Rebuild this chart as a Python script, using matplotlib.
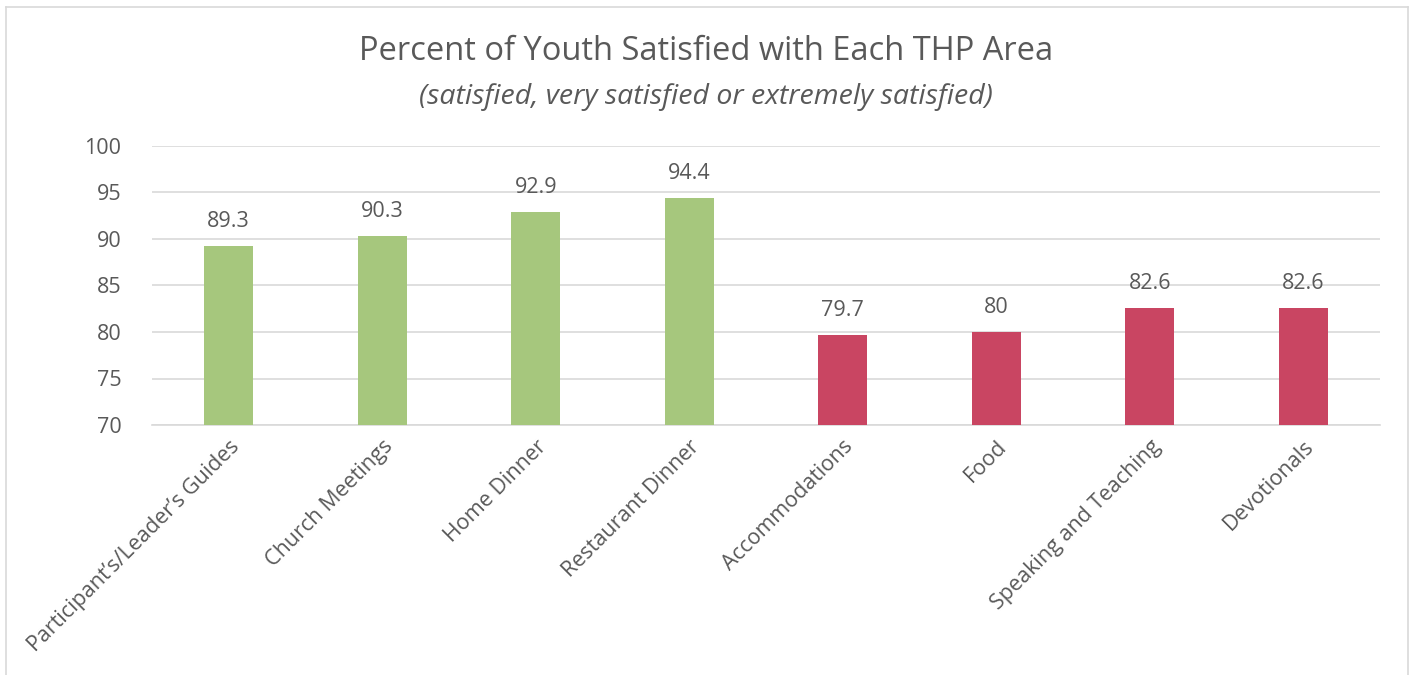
import matplotlib.pyplot as plt
from matplotlib.lines import Line2D

categories = ["Participant\u2019s/Leader\u2019s Guides", "Church Meetings", "Home Dinner",
              "Restaurant Dinner", "Accommodations", "Food", "Speaking and Teaching",
              "Devotionals"]
values = [89.3, 90.3, 92.9, 94.4, 79.7, 80, 82.6, 82.6]
value_labels = ["89.3", "90.3", "92.9", "94.4", "79.7", "80", "82.6", "82.6"]
groups = ["high", "high", "high", "high", "low", "low", "low", "low"]
y_ticks = [70, 75, 80, 85, 90, 95, 100]

colors = {"high": "#A6C77D", "low": "#C94562"}
text_gray = "#595959"
grid_gray = "#D9D9D9"

plt.rcParams['font.family'] = ['Open Sans', 'DejaVu Sans']

fig = plt.figure(figsize=(14.12, 6.75), dpi=100)
ax = fig.add_axes([152 / 1412, 1 - 425 / 675, (1380 - 152) / 1412, (425 - 146) / 675])

x = list(range(len(categories)))
ax.bar(x, [v - 70 for v in values], bottom=70, width=0.32,
       color=[colors[g] for g in groups], zorder=3)

for xi, v, lab in zip(x, values, value_labels):
    ax.text(xi, v + 1.5, lab, ha="center", va="bottom", fontsize=15.5, color=text_gray)

ax.set_xlim(-0.5, len(categories) - 0.5)
ax.set_ylim(70, 100)
ax.set_yticks(y_ticks)
ax.set_yticklabels([str(t) for t in y_ticks], fontsize=15.5, color=text_gray)
ax.yaxis.grid(True, color=grid_gray, linewidth=1.2, zorder=0)
ax.tick_params(axis="y", length=0, pad=22)
ax.tick_params(axis="x", length=0, pad=8)
ax.set_xticks(x)
ax.set_xticklabels(categories, rotation=45, ha="right", rotation_mode="anchor",
                   fontsize=15.5, color=text_gray)
for s in ["top", "right", "left"]:
    ax.spines[s].set_visible(False)
ax.spines["bottom"].set_color(grid_gray)
ax.spines["bottom"].set_linewidth(1.2)

fig.text(0.5, 1 - 52 / 675, "Percent of Youth Satisfied with Each THP Area",
         ha="center", va="center", fontsize=23.5, color=text_gray)
fig.text(0.5, 1 - 97 / 675, "(satisfied, very satisfied or extremely satisfied)",
         ha="center", va="center", fontsize=20.5, style="italic", color=text_gray)

# chart frame (bottom edge runs off the image)
fx0, fx1 = 6 / 1412, 1408 / 1412
fy1 = 1 - 7 / 675
for xs, ys in [([fx0, fx0], [0, fy1]), ([fx0, fx1], [fy1, fy1]), ([fx1, fx1], [fy1, 0])]:
    fig.add_artist(Line2D(xs, ys, color=grid_gray, linewidth=1.2, transform=fig.transFigure))

fig.savefig("out.png", dpi=100)
